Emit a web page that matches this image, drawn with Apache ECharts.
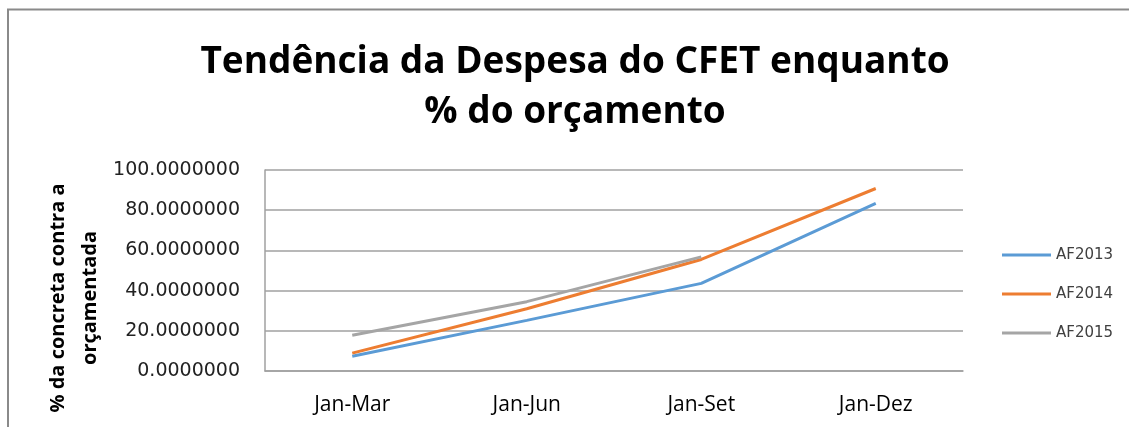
<!DOCTYPE html>
<html>
<head>
<meta charset="utf-8">
<script src="https://cdn.jsdelivr.net/npm/echarts@6/dist/echarts.min.js"></script>
<style>
html,body{margin:0;padding:0;background:#fff;}
#chart{width:1129px;height:427px;}
</style>
</head>
<body>
<div id="chart"></div>
<script>
const titleText = 'Tendência da Despesa do CFET enquanto\n% do orçamento';
const yAxisTitle = '% da concreta contra a\norçamentada';
const categories = ['Jan-Mar', 'Jan-Jun', 'Jan-Set', 'Jan-Dez'];
const seriesNames = ['AF2013', 'AF2014', 'AF2015'];
const af2013 = [7.3, 25.2, 43.6, 83.4];
const af2014 = [8.9, 31.0, 55.5, 90.8];
const af2015 = [17.8, 34.5, 56.8];
const yTicks = [0, 20, 40, 60, 80, 100];
const colors = ['#5B9BD5', '#ED7D31', '#A5A5A5'];

const chart = echarts.init(document.getElementById('chart'));
const seriesData = [af2013, af2014, af2015];

chart.setOption({
  animation: false,
  backgroundColor: '#ffffff',
  grid: { left: 265, right: 166, top: 170, bottom: 56, containLabel: false },
  graphic: [
    { type: 'polyline', shape: { points: [[8, 427], [8, 9.5], [1129, 9.5]] },
      style: { stroke: '#8a8a8a', lineWidth: 2, fill: null } },
    { type: 'text', x: 575, y: 87,
      style: { text: titleText, font: 'bold 37px "Open Sans"', fill: '#000',
        align: 'center', verticalAlign: 'middle', lineHeight: 50 } },
    { type: 'text', x: 74, y: 298, rotation: Math.PI / 2,
      style: { text: yAxisTitle, font: 'bold 20px "Open Sans"', fill: '#000',
        align: 'center', verticalAlign: 'middle', lineHeight: 32 } }
  ],
  legend: {
    orient: 'vertical', left: 997, top: 242,
    data: seriesNames, icon: 'rect', itemWidth: 49, itemHeight: 3, itemGap: 23,
    textStyle: { fontFamily: 'DejaVu Sans', fontSize: 15, color: '#404040', lineHeight: 16 }
  },
  xAxis: {
    type: 'category', data: categories, boundaryGap: true,
    axisLine: { show: true, lineStyle: { color: '#a0a0a0', width: 1.5 } },
    axisTick: { show: false },
    axisLabel: { fontFamily: '"Open Sans"', fontSize: 21, color: '#000', margin: 24 },
    splitLine: { show: false }
  },
  yAxis: {
    type: 'value', min: yTicks[0], max: yTicks[yTicks.length - 1], interval: yTicks[1] - yTicks[0],
    axisLine: { show: true, lineStyle: { color: '#a0a0a0', width: 1.5 } },
    axisTick: { show: false },
    axisLabel: { fontFamily: 'DejaVu Sans', fontSize: 19, color: '#222', margin: 25,
      formatter: v => v.toFixed(7) },
    splitLine: { show: true, lineStyle: { color: '#a0a0a0', width: 1.5 } }
  },
  series: seriesNames.map((n, i) => ({
    name: n, type: 'line', data: seriesData[i], symbol: 'none', smooth: false,
    lineStyle: { color: colors[i], width: 3 }, itemStyle: { color: colors[i] }
  }))
});
</script>
</body>
</html>
